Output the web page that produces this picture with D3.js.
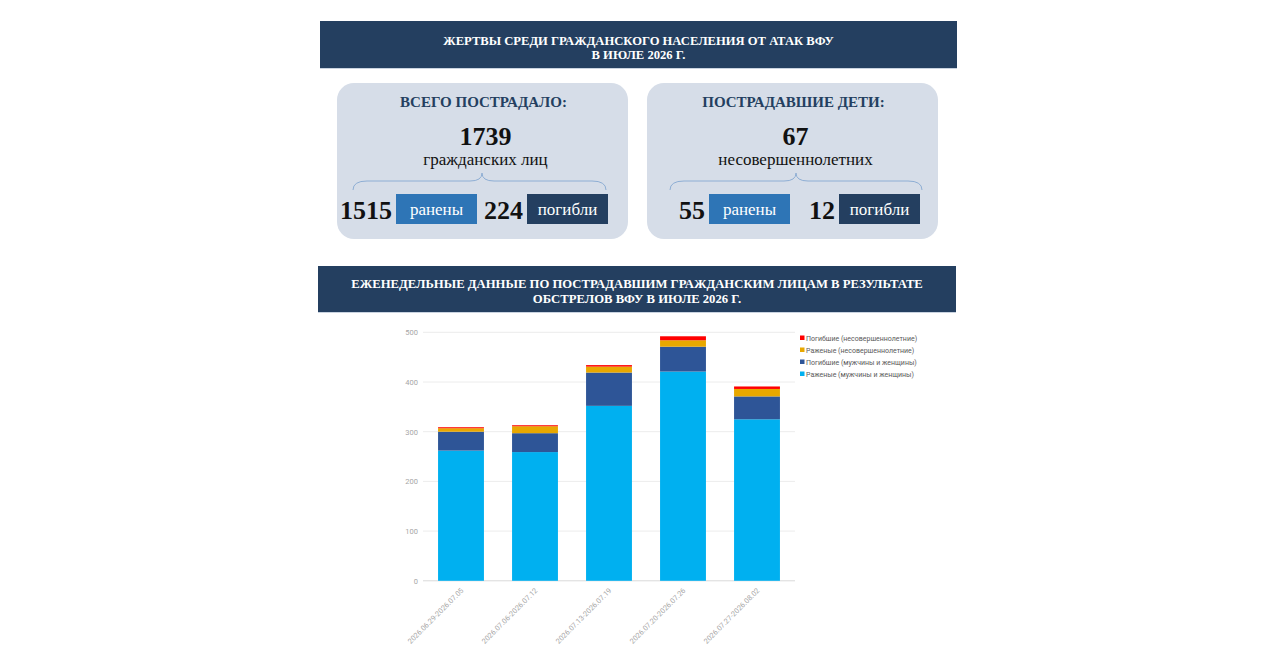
<!DOCTYPE html>
<html>
<head>
<meta charset="utf-8">
<script src="https://cdn.jsdelivr.net/npm/d3@7"></script>
<style>
  html, body { margin: 0; padding: 0; background: #fff; }
  svg { display: block; }
</style>
</head>
<body>
<svg id="page"></svg>
<script>
const WIDTH = 1280;
const HEIGHT = 647;

// header texts
const topTitle = ["ЖЕРТВЫ СРЕДИ ГРАЖДАНСКОГО НАСЕЛЕНИЯ ОТ АТАК ВФУ", "В ИЮЛЕ 2026 Г."];
const chartTitle = ["ЕЖЕНЕДЕЛЬНЫЕ ДАННЫЕ ПО ПОСТРАДАВШИМ ГРАЖДАНСКИМ ЛИЦАМ В РЕЗУЛЬТАТЕ", "ОБСТРЕЛОВ ВФУ В ИЮЛЕ 2026 Г."];

// summary cards
const cardTitles = ["ВСЕГО ПОСТРАДАЛО:", "ПОСТРАДАВШИЕ ДЕТИ:"];
const cardTotals = [1739, 67];
const cardSubtitles = ["гражданских лиц", "несовершеннолетних"];
const cardWounded = [1515, 55];
const cardKilled = [224, 12];
const woundedLabel = "ранены";
const killedLabel = "погибли";

// weekly chart
const weeks = ["2026.06.29-2026.07.05", "2026.07.06-2026.07.12", "2026.07.13-2026.07.19", "2026.07.20-2026.07.26", "2026.07.27-2026.08.02"];
const woundedAdults = [262, 259, 352, 421, 325];
const killedAdults = [38, 38, 67, 50, 46];
const woundedChildren = [7, 14, 12, 13, 15];
const killedChildren = [2, 2, 3, 8, 5];
const seriesNames = ["Раженые (мужчины и женщины)", "Погибшие (мужчины и женщины)", "Раженые (несовершеннолетние)", "Погибшие (несовершеннолетние)"];
const seriesColors = ["#00b0f0", "#2e5597", "#e8a800", "#ff0000"];
const yTicks = [0, 100, 200, 300, 400, 500];

const NAVY = "#243f60";
const SERIF = "'Liberation Serif', 'Times New Roman', serif";
const SANS = "Roboto, 'Open Sans', sans-serif";

const svg = d3.select('#page').attr('width', WIDTH).attr('height', HEIGHT);

// title banners
function banner(x, y, w, h, lines, size, firstBase, lineGap) {
    svg.append('rect').attr('x', x).attr('y', y).attr('width', w).attr('height', h).attr('fill', NAVY);
    svg.append('line').attr('x1', x).attr('x2', x + w).attr('y1', y + h + 0.5).attr('y2', y + h + 0.5)
        .attr('stroke', '#c9d3e0').attr('stroke-width', 1);
    svg.selectAll(null).data(lines).join('text')
        .attr('x', x + w / 2)
        .attr('y', (_, i) => firstBase + i * lineGap)
        .attr('text-anchor', 'middle')
        .attr('fill', '#fff')
        .attr('font-family', SERIF)
        .attr('font-weight', 'bold')
        .attr('font-size', size)
        .text(d => d);
}

banner(320, 21, 637, 47, topTitle, 12.6, 45, 14);
banner(318, 266, 638, 46, chartTitle, 12.7, 287.5, 15);

// summary cards
const cardX = [337, 647];
const CARD_W = 291;
const CARD_Y = 83;
const CARD_H = 156;

const cards = svg.selectAll('.card')
    .data(cardTitles.map((t, i) => ({ i, title: t })))
    .join('g')
    .attr('class', 'card')
    .attr('transform', d => `translate(${cardX[d.i]}, ${CARD_Y})`);

cards.append('rect')
    .attr('width', CARD_W).attr('height', CARD_H)
    .attr('rx', 17).attr('ry', 17)
    .attr('fill', '#d6dde8');

cards.append('text')
    .attr('x', CARD_W / 2 + 1).attr('y', 24)
    .attr('text-anchor', 'middle')
    .attr('fill', NAVY)
    .attr('font-family', SERIF).attr('font-weight', 'bold').attr('font-size', 15)
    .text(d => d.title);

cards.append('text')
    .attr('x', CARD_W / 2 + 3).attr('y', 62)
    .attr('text-anchor', 'middle')
    .attr('fill', '#111')
    .attr('font-family', SERIF).attr('font-weight', 'bold').attr('font-size', 26)
    .text(d => cardTotals[d.i]);

cards.append('text')
    .attr('x', CARD_W / 2 + 3).attr('y', 82)
    .attr('text-anchor', 'middle')
    .attr('fill', '#111')
    .attr('font-family', SERIF).attr('font-size', 17)
    .text(d => cardSubtitles[d.i]);

// curly brace over the two figures
cards.append('path')
    .attr('d', d => {
        const l = d.i === 0 ? 16 : 23, r = d.i === 0 ? 269 : 275, m = d.i === 0 ? 145 : 149;
        const yb = 107, yh = 98, yt = 90;
        return `M${l},${yb} Q${l},${yh} ${l + 14},${yh} L${m - 12},${yh} Q${m},${yh} ${m},${yt}` +
            ` Q${m},${yh} ${m + 12},${yh} L${r - 14},${yh} Q${r},${yh} ${r},${yb}`;
    })
    .attr('fill', 'none')
    .attr('stroke', '#8eaed4')
    .attr('stroke-width', 1);

const box1X = [59, 62];
const box2X = [190, 192];
const BOX_W = 81, BOX_H = 30, BOX_Y = 111;

function figure(sel, boxX, values, label, color) {
    sel.append('text')
        .attr('x', d => boxX[d.i] - 4).attr('y', BOX_Y + 25)
        .attr('text-anchor', 'end')
        .attr('fill', '#111')
        .attr('font-family', SERIF).attr('font-weight', 'bold').attr('font-size', 26)
        .text(d => values[d.i]);
    sel.append('rect')
        .attr('x', d => boxX[d.i]).attr('y', BOX_Y)
        .attr('width', BOX_W).attr('height', BOX_H)
        .attr('fill', color);
    sel.append('text')
        .attr('x', d => boxX[d.i] + BOX_W / 2).attr('y', BOX_Y + 21)
        .attr('text-anchor', 'middle')
        .attr('fill', '#fff')
        .attr('font-family', SERIF).attr('font-size', 17)
        .text(label);
}

figure(cards, box1X, cardWounded, woundedLabel, '#2e75b6');
figure(cards, box2X, cardKilled, killedLabel, NAVY);

// stacked weekly chart
const chartData = weeks.map((w, i) => ({
    week: w,
    wa: woundedAdults[i],
    ka: killedAdults[i],
    wc: woundedChildren[i],
    kc: killedChildren[i]
}));
const keys = ['wa', 'ka', 'wc', 'kc'];
const stacked = d3.stack().keys(keys)(chartData);

const xScale = d3.scaleBand()
    .domain(weeks)
    .range([424, 794])
    .paddingInner(0.38)
    .paddingOuter(0.19);

const yScale = d3.scaleLinear().domain([0, 500]).range([580.8, 332.3]);

// gridlines
svg.append('g')
    .selectAll('line')
    .data(yTicks)
    .join('line')
    .attr('x1', 423).attr('x2', 795)
    .attr('y1', d => yScale(d)).attr('y2', d => yScale(d))
    .attr('stroke', d => d === 0 ? '#d9d9d9' : '#ececec')
    .attr('stroke-width', 1);

const yAxis = svg.append('g')
    .attr('transform', 'translate(418, 0)')
    .call(d3.axisLeft(yScale).tickValues(yTicks).tickSize(0).tickPadding(0));
yAxis.select('.domain').remove();
yAxis.selectAll('text')
    .attr('fill', '#a6a6a6')
    .attr('font-family', SANS)
    .attr('font-size', 7.5);

svg.append('g')
    .selectAll('g')
    .data(stacked)
    .join('g')
    .attr('fill', (_, i) => seriesColors[i])
    .selectAll('rect')
    .data(d => d)
    .join('rect')
    .attr('x', d => xScale(d.data.week))
    .attr('width', xScale.bandwidth())
    .attr('y', d => yScale(d[1]))
    .attr('height', d => yScale(d[0]) - yScale(d[1]));

const xAxis = svg.append('g')
    .attr('transform', 'translate(0, 581)')
    .call(d3.axisBottom(xScale).tickSize(0).tickPadding(0));
xAxis.select('.domain').remove();
xAxis.selectAll('text')
    .attr('fill', '#a6a6a6')
    .attr('font-family', SANS)
    .attr('font-size', 7.3)
    .attr('text-anchor', 'end')
    .attr('dy', 0)
    .attr('transform', 'translate(3, 10) rotate(-45)');

// legend
const legend = svg.append('g')
    .selectAll('g')
    .data(seriesNames.map((n, i) => ({ n, c: seriesColors[i] })).reverse())
    .join('g')
    .attr('transform', (_, i) => `translate(800, ${338 + i * 12})`);

legend.append('rect')
    .attr('x', 0).attr('y', -2.5)
    .attr('width', 4.5).attr('height', 4.5)
    .attr('fill', d => d.c);

legend.append('text')
    .attr('x', 6).attr('y', 2.5)
    .attr('fill', '#595959')
    .attr('font-family', SANS)
    .attr('font-size', 7)
    .text(d => d.n);
</script>
</body>
</html>
